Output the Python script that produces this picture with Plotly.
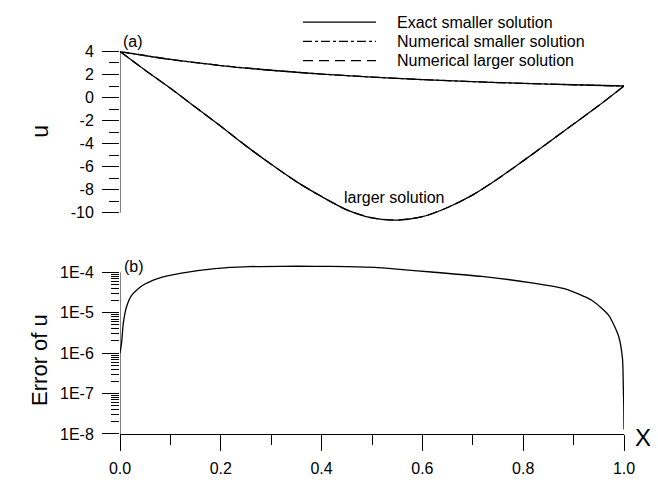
import plotly.graph_objects as go

# ---------------- data ----------------
x_small = [0.0, 0.1, 0.2, 0.3, 0.4, 0.5, 0.6, 0.7, 0.8, 0.9, 1.0]
u_exact_small = [4.00, 3.31, 2.78, 2.37, 2.04, 1.78, 1.56, 1.38, 1.23, 1.11, 1.00]
u_num_small = [4.00, 3.31, 2.78, 2.37, 2.04, 1.78, 1.56, 1.38, 1.23, 1.11, 1.00]

x_large = [0.0, 0.05, 0.1, 0.15, 0.2, 0.25, 0.3, 0.35, 0.4, 0.45, 0.5,
           0.55, 0.6, 0.65, 0.7, 0.75, 0.8, 0.85, 0.9, 0.95, 1.0]
u_num_large = [4.0, 2.37, 0.8, -0.85, -2.5, -4.2, -5.8, -7.3, -8.6, -9.75, -10.45,
               -10.65, -10.35, -9.55, -8.45, -7.05, -5.5, -3.9, -2.3, -0.7, 1.0]

x_err = [0.0, 0.0033, 0.0066, 0.013, 0.023, 0.043, 0.076, 0.122, 0.188, 0.255,
         0.321, 0.387, 0.45, 0.506, 0.56, 0.618, 0.718, 0.817, 0.883, 0.936,
         0.969, 0.989, 0.997, 0.9986, 0.9995, 1.0]
err_u = [1.0e-6, 1.86e-6, 5.6e-6, 1.41e-5, 2.7e-5, 4.6e-5, 7.1e-5, 9.5e-5, 1.23e-4, 1.38e-4,
         1.41e-4, 1.41e-4, 1.38e-4, 1.32e-4, 1.17e-4, 1.02e-4, 7.9e-5, 5.5e-5, 3.9e-5, 2.04e-5,
         8.9e-6, 2.7e-6, 7.4e-7, 1.55e-7, 5.0e-8, 1.3e-8]

u_ticks = [-10, -8, -6, -4, -2, 0, 2, 4]
u_ticktext = ["-10", "-8", "-6", "-4", "-2", "0", "2", "4"]
u_minor = [-9, -7, -5, -3, -1, 1, 3]
err_ticks = [1e-8, 1e-7, 1e-6, 1e-5, 1e-4]
err_ticktext = ["1E-8", "1E-7", "1E-6", "1E-5", "1E-4"]
x_ticks = [0.0, 0.2, 0.4, 0.6, 0.8, 1.0]
x_ticktext = ["0.0", "0.2", "0.4", "0.6", "0.8", "1.0"]

legend_names = ["Exact smaller solution", "Numerical smaller solution", "Numerical larger solution"]

# ---------------- figure ----------------
FONT = "Liberation Sans, Arial, sans-serif"
OFF = 8  # page body margin
W, H = 658 - OFF, 489 - OFF
L, T = 120 - OFF, 51 - OFF
R = W - (624 - OFF)
B = H - (449 - OFF)
PW, PH = W - L - R, H - T - B


def px(xp):
    return (xp - OFF - L) / PW


def py(yp):
    return (H - B - (yp - OFF)) / PH


fig = go.Figure()
lw = 1.3
sm = 0.8
fig.add_trace(go.Scatter(x=x_small, y=u_exact_small, mode="lines", name=legend_names[0],
                         line=dict(color="black", width=lw, shape="spline", smoothing=sm),
                         xaxis="x", yaxis="y", showlegend=False))
fig.add_trace(go.Scatter(x=x_small, y=u_num_small, mode="lines", name=legend_names[1],
                         line=dict(color="black", width=lw, dash="dashdot", shape="spline", smoothing=sm),
                         xaxis="x", yaxis="y", showlegend=False))
fig.add_trace(go.Scatter(x=x_large, y=u_num_large, mode="lines", name="larger solution",
                         line=dict(color="black", width=lw, shape="spline", smoothing=sm),
                         xaxis="x", yaxis="y", showlegend=False))
fig.add_trace(go.Scatter(x=x_large, y=u_num_large, mode="lines", name=legend_names[2],
                         line=dict(color="black", width=lw, dash="10px,5px", shape="spline", smoothing=sm),
                         xaxis="x", yaxis="y", showlegend=False))
fig.add_trace(go.Scatter(x=x_err, y=err_u, mode="lines", name="Error of u",
                         line=dict(color="black", width=lw, shape="spline", smoothing=0.6),
                         xaxis="x2", yaxis="y2", showlegend=False))

# top panel: -10 at ref y=219, 4 at ref y=51.5 ; range extended so the curve is not clipped
u_lo, u_hi = -11.0, 4.0
px_per_u = (219 - 51.5) / 14.0
top_bottom_ref = 51.5 + (u_hi - u_lo) * px_per_u
top_domain = [py(top_bottom_ref), py(51.5)]

# bottom panel: 1E-8 at 449, 1E-4 at 281 ; extend top a bit
e_lo, e_hi = -8.0, -3.75
px_per_dec = (449 - 281) / 4.0
bot_top_ref = 449 - (e_hi - e_lo) * px_per_dec
bot_domain = [py(449), py(bot_top_ref)]

common_tick = dict(ticks="outside", tickwidth=1, tickcolor="black", showgrid=False, zeroline=False)

fig.update_layout(
    width=W, height=H,
    margin=dict(l=L, r=R, t=T, b=B, pad=0),
    paper_bgcolor="white", plot_bgcolor="white",
    font=dict(family=FONT, size=16, color="black"),
    showlegend=False,
    xaxis=dict(domain=[0, 1], range=[0, 1], anchor="y", matches="x2",
               showline=False, showticklabels=False, ticks="", showgrid=False, zeroline=False),
    yaxis=dict(domain=top_domain, range=[u_lo, u_hi], anchor="x",
               tickvals=u_ticks, ticktext=u_ticktext, ticklen=17, showline=False,
               ticklabelstandoff=5,
               minor=dict(tickvals=u_minor, ticks="outside", ticklen=10, tickcolor="black",
                          tickwidth=1, showgrid=False),
               **common_tick),
    xaxis2=dict(domain=[0, 1], range=[0, 1], anchor="y2",
                tickvals=x_ticks, ticktext=x_ticktext, ticklen=16,
                showline=True, linecolor="black", linewidth=1, ticklabelstandoff=4,
                minor=dict(dtick=0.1, tick0=0, ticks="outside", ticklen=10, tickcolor="black",
                           tickwidth=1, showgrid=False),
                **common_tick),
    yaxis2=dict(domain=bot_domain, type="log", range=[e_lo, e_hi], anchor="x2",
                tickvals=err_ticks, ticktext=err_ticktext, ticklen=17,
                showline=False, ticklabelstandoff=5,
                minor=dict(tickvals=[m * 10 ** e for e in range(-8, -4) for m in range(2, 10)],
                           ticks="outside", ticklen=8, tickcolor="black", tickwidth=1, showgrid=False),
                **common_tick),
)

shapes = []
# axis spines limited to the labelled span, as in the reference
shapes.append(dict(type="line", xref="x", yref="y", x0=0, x1=0, y0=-10, y1=4,
                   line=dict(color="black", width=1)))
shapes.append(dict(type="line", xref="x2", yref="y2", x0=0, x1=0, y0=1e-8, y1=1e-4,
                   line=dict(color="black", width=1)))

ann = []


def add_text(text, xr, yr, size, angle=0, xanchor="center"):
    ann.append(dict(text=text, x=px(xr), y=py(yr), xref="paper", yref="paper",
                    xanchor=xanchor, yanchor="middle", textangle=angle,
                    showarrow=False, font=dict(size=size)))


add_text("u", 40, 135, 23, angle=-90)
add_text("Error of u", 40, 372, 22, angle=-90)
add_text("X", 643, 453, 24)
add_text("(a)", 133, 41.5, 16)
add_text("(b)", 134, 275, 16)
add_text("larger solution", 394, 203, 16)

legend_rows = [21, 41, 61]
dashes = ["solid", "dashdot", "10px,6px"]
for name, yy, dsh in zip(legend_names, legend_rows, dashes):
    shapes.append(dict(type="line", xref="paper", yref="paper", x0=px(303), x1=px(376),
                       y0=py(yy), y1=py(yy), line=dict(color="black", width=1.2, dash=dsh)))
    add_text(name, 395, yy, 16, xanchor="left")

fig.update_layout(annotations=ann, shapes=shapes)

fig.write_html("out.html")
